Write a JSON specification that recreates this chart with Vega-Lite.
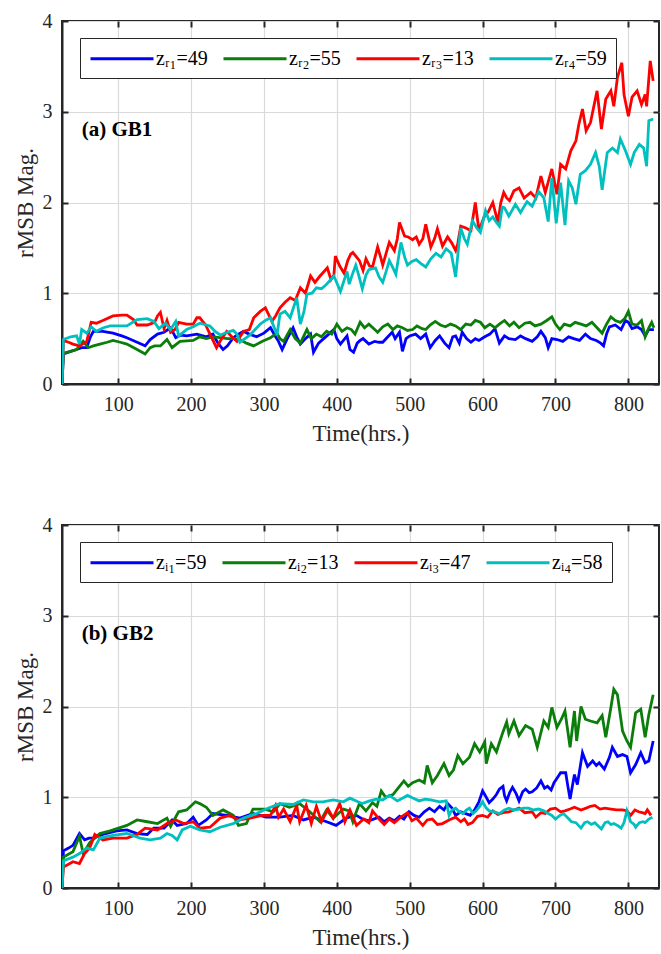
{
"$schema": "https://vega.github.io/schema/vega-lite/v6.json",
"padding": {"left": 13, "top": 10, "right": 0, "bottom": 0},
"background": "white",
"config": {
  "font": "Liberation Serif",
  "view": {"stroke": "#262626", "strokeWidth": 2},
  "concat": {"spacing": 68},
  "axis": {"labelFont": "Liberation Serif", "labelFontSize": 20, "labelColor": "#262626", "titleFont": "Liberation Serif", "titleFontSize": 23, "titleFontWeight": "normal", "titleColor": "#262626", "domainColor": "#262626", "domainWidth": 2, "tickColor": "#262626", "tickWidth": 2, "tickSize": -6, "gridColor": "#dadada", "gridWidth": 1.2},
  "axisX": {"labelPadding": 16, "titlePadding": 8},
  "axisY": {"labelPadding": 16, "titlePadding": 5}
},
"datasets": {
"gb1": [
{"s":"zᵣ₁=49","t":23,"v":0},{"s":"zᵣ₁=49","t":25,"v":0.33},{"s":"zᵣ₁=49","t":35,"v":0.36},{"s":"zᵣ₁=49","t":43,"v":0.38},{"s":"zᵣ₁=49","t":50,"v":0.4},{"s":"zᵣ₁=49","t":57,"v":0.4},{"s":"zᵣ₁=49","t":62,"v":0.52},{"s":"zᵣ₁=49","t":66,"v":0.58},{"s":"zᵣ₁=49","t":79,"v":0.58},{"s":"zᵣ₁=49","t":93,"v":0.56},{"s":"zᵣ₁=49","t":105,"v":0.53},{"s":"zᵣ₁=49","t":112,"v":0.51},{"s":"zᵣ₁=49","t":126,"v":0.46},{"s":"zᵣ₁=49","t":137,"v":0.42},{"s":"zᵣ₁=49","t":144,"v":0.49},{"s":"zᵣ₁=49","t":154,"v":0.55},{"s":"zᵣ₁=49","t":163,"v":0.57},{"s":"zᵣ₁=49","t":172,"v":0.62},{"s":"zᵣ₁=49","t":179,"v":0.51},{"s":"zᵣ₁=49","t":186,"v":0.54},{"s":"zᵣ₁=49","t":194,"v":0.53},{"s":"zᵣ₁=49","t":208,"v":0.55},{"s":"zᵣ₁=49","t":221,"v":0.52},{"s":"zᵣ₁=49","t":230,"v":0.55},{"s":"zᵣ₁=49","t":237,"v":0.45},{"s":"zᵣ₁=49","t":244,"v":0.38},{"s":"zᵣ₁=49","t":250,"v":0.42},{"s":"zᵣ₁=49","t":258,"v":0.51},{"s":"zᵣ₁=49","t":265,"v":0.55},{"s":"zᵣ₁=49","t":272,"v":0.58},{"s":"zᵣ₁=49","t":280,"v":0.55},{"s":"zᵣ₁=49","t":290,"v":0.52},{"s":"zᵣ₁=49","t":300,"v":0.56},{"s":"zᵣ₁=49","t":309,"v":0.62},{"s":"zᵣ₁=49","t":316,"v":0.52},{"s":"zᵣ₁=49","t":320,"v":0.47},{"s":"zᵣ₁=49","t":325,"v":0.38},{"s":"zᵣ₁=49","t":332,"v":0.5},{"s":"zᵣ₁=49","t":340,"v":0.62},{"s":"zᵣ₁=49","t":345,"v":0.52},{"s":"zᵣ₁=49","t":350,"v":0.44},{"s":"zᵣ₁=49","t":357,"v":0.5},{"s":"zᵣ₁=49","t":364,"v":0.55},{"s":"zᵣ₁=49","t":368,"v":0.35},{"s":"zᵣ₁=49","t":375,"v":0.45},{"s":"zᵣ₁=49","t":382,"v":0.5},{"s":"zᵣ₁=49","t":389,"v":0.55},{"s":"zᵣ₁=49","t":396,"v":0.6},{"s":"zᵣ₁=49","t":400,"v":0.5},{"s":"zᵣ₁=49","t":405,"v":0.44},{"s":"zᵣ₁=49","t":414,"v":0.53},{"s":"zᵣ₁=49","t":418,"v":0.38},{"s":"zᵣ₁=49","t":423,"v":0.35},{"s":"zᵣ₁=49","t":428,"v":0.45},{"s":"zᵣ₁=49","t":432,"v":0.48},{"s":"zᵣ₁=49","t":436,"v":0.5},{"s":"zᵣ₁=49","t":444,"v":0.44},{"s":"zᵣ₁=49","t":452,"v":0.47},{"s":"zᵣ₁=49","t":458,"v":0.46},{"s":"zᵣ₁=49","t":463,"v":0.46},{"s":"zᵣ₁=49","t":470,"v":0.52},{"s":"zᵣ₁=49","t":476,"v":0.57},{"s":"zᵣ₁=49","t":480,"v":0.5},{"s":"zᵣ₁=49","t":486,"v":0.57},{"s":"zᵣ₁=49","t":490,"v":0.36},{"s":"zᵣ₁=49","t":495,"v":0.5},{"s":"zᵣ₁=49","t":500,"v":0.53},{"s":"zᵣ₁=49","t":508,"v":0.55},{"s":"zᵣ₁=49","t":515,"v":0.5},{"s":"zᵣ₁=49","t":522,"v":0.55},{"s":"zᵣ₁=49","t":528,"v":0.4},{"s":"zᵣ₁=49","t":535,"v":0.48},{"s":"zᵣ₁=49","t":541,"v":0.53},{"s":"zᵣ₁=49","t":548,"v":0.45},{"s":"zᵣ₁=49","t":554,"v":0.4},{"s":"zᵣ₁=49","t":559,"v":0.52},{"s":"zᵣ₁=49","t":563,"v":0.53},{"s":"zᵣ₁=49","t":568,"v":0.45},{"s":"zᵣ₁=49","t":572,"v":0.57},{"s":"zᵣ₁=49","t":578,"v":0.5},{"s":"zᵣ₁=49","t":584,"v":0.46},{"s":"zᵣ₁=49","t":590,"v":0.5},{"s":"zᵣ₁=49","t":595,"v":0.48},{"s":"zᵣ₁=49","t":603,"v":0.52},{"s":"zᵣ₁=49","t":610,"v":0.55},{"s":"zᵣ₁=49","t":617,"v":0.61},{"s":"zᵣ₁=49","t":623,"v":0.45},{"s":"zᵣ₁=49","t":630,"v":0.53},{"s":"zᵣ₁=49","t":636,"v":0.5},{"s":"zᵣ₁=49","t":645,"v":0.49},{"s":"zᵣ₁=49","t":652,"v":0.53},{"s":"zᵣ₁=49","t":659,"v":0.5},{"s":"zᵣ₁=49","t":668,"v":0.47},{"s":"zᵣ₁=49","t":675,"v":0.52},{"s":"zᵣ₁=49","t":680,"v":0.58},{"s":"zᵣ₁=49","t":686,"v":0.51},{"s":"zᵣ₁=49","t":690,"v":0.4},{"s":"zᵣ₁=49","t":695,"v":0.5},{"s":"zᵣ₁=49","t":702,"v":0.49},{"s":"zᵣ₁=49","t":710,"v":0.47},{"s":"zᵣ₁=49","t":718,"v":0.52},{"s":"zᵣ₁=49","t":725,"v":0.5},{"s":"zᵣ₁=49","t":733,"v":0.48},{"s":"zᵣ₁=49","t":741,"v":0.55},{"s":"zᵣ₁=49","t":748,"v":0.5},{"s":"zᵣ₁=49","t":756,"v":0.48},{"s":"zᵣ₁=49","t":762,"v":0.45},{"s":"zᵣ₁=49","t":766,"v":0.42},{"s":"zᵣ₁=49","t":770,"v":0.55},{"s":"zᵣ₁=49","t":774,"v":0.63},{"s":"zᵣ₁=49","t":782,"v":0.65},{"s":"zᵣ₁=49","t":790,"v":0.6},{"s":"zᵣ₁=49","t":796,"v":0.7},{"s":"zᵣ₁=49","t":800,"v":0.68},{"s":"zᵣ₁=49","t":805,"v":0.61},{"s":"zᵣ₁=49","t":812,"v":0.63},{"s":"zᵣ₁=49","t":818,"v":0.6},{"s":"zᵣ₁=49","t":823,"v":0.53},{"s":"zᵣ₁=49","t":828,"v":0.6},{"s":"zᵣ₁=49","t":835,"v":0.6},
{"s":"zᵣ₂=55","t":23,"v":0},{"s":"zᵣ₂=55","t":25,"v":0.34},{"s":"zᵣ₂=55","t":35,"v":0.36},{"s":"zᵣ₂=55","t":43,"v":0.38},{"s":"zᵣ₂=55","t":52,"v":0.47},{"s":"zᵣ₂=55","t":59,"v":0.4},{"s":"zᵣ₂=55","t":66,"v":0.42},{"s":"zᵣ₂=55","t":75,"v":0.44},{"s":"zᵣ₂=55","t":85,"v":0.46},{"s":"zᵣ₂=55","t":93,"v":0.48},{"s":"zᵣ₂=55","t":103,"v":0.46},{"s":"zᵣ₂=55","t":112,"v":0.44},{"s":"zᵣ₂=55","t":126,"v":0.38},{"s":"zᵣ₂=55","t":137,"v":0.33},{"s":"zᵣ₂=55","t":144,"v":0.4},{"s":"zᵣ₂=55","t":150,"v":0.42},{"s":"zᵣ₂=55","t":158,"v":0.42},{"s":"zᵣ₂=55","t":167,"v":0.49},{"s":"zᵣ₂=55","t":174,"v":0.4},{"s":"zᵣ₂=55","t":180,"v":0.44},{"s":"zᵣ₂=55","t":185,"v":0.47},{"s":"zᵣ₂=55","t":203,"v":0.48},{"s":"zᵣ₂=55","t":212,"v":0.52},{"s":"zᵣ₂=55","t":221,"v":0.5},{"s":"zᵣ₂=55","t":230,"v":0.52},{"s":"zᵣ₂=55","t":240,"v":0.51},{"s":"zᵣ₂=55","t":250,"v":0.5},{"s":"zᵣ₂=55","t":258,"v":0.5},{"s":"zᵣ₂=55","t":267,"v":0.49},{"s":"zᵣ₂=55","t":276,"v":0.45},{"s":"zᵣ₂=55","t":286,"v":0.42},{"s":"zᵣ₂=55","t":298,"v":0.47},{"s":"zᵣ₂=55","t":309,"v":0.51},{"s":"zᵣ₂=55","t":318,"v":0.56},{"s":"zᵣ₂=55","t":322,"v":0.5},{"s":"zᵣ₂=55","t":327,"v":0.47},{"s":"zᵣ₂=55","t":336,"v":0.6},{"s":"zᵣ₂=55","t":343,"v":0.5},{"s":"zᵣ₂=55","t":350,"v":0.45},{"s":"zᵣ₂=55","t":359,"v":0.6},{"s":"zᵣ₂=55","t":365,"v":0.5},{"s":"zᵣ₂=55","t":372,"v":0.55},{"s":"zᵣ₂=55","t":379,"v":0.52},{"s":"zᵣ₂=55","t":386,"v":0.58},{"s":"zᵣ₂=55","t":393,"v":0.55},{"s":"zᵣ₂=55","t":400,"v":0.66},{"s":"zᵣ₂=55","t":407,"v":0.58},{"s":"zᵣ₂=55","t":414,"v":0.62},{"s":"zᵣ₂=55","t":420,"v":0.6},{"s":"zᵣ₂=55","t":425,"v":0.55},{"s":"zᵣ₂=55","t":432,"v":0.68},{"s":"zᵣ₂=55","t":438,"v":0.62},{"s":"zᵣ₂=55","t":444,"v":0.66},{"s":"zᵣ₂=55","t":452,"v":0.6},{"s":"zᵣ₂=55","t":456,"v":0.57},{"s":"zᵣ₂=55","t":463,"v":0.63},{"s":"zᵣ₂=55","t":470,"v":0.66},{"s":"zᵣ₂=55","t":477,"v":0.6},{"s":"zᵣ₂=55","t":483,"v":0.64},{"s":"zᵣ₂=55","t":490,"v":0.62},{"s":"zᵣ₂=55","t":497,"v":0.59},{"s":"zᵣ₂=55","t":504,"v":0.6},{"s":"zᵣ₂=55","t":510,"v":0.64},{"s":"zᵣ₂=55","t":517,"v":0.61},{"s":"zᵣ₂=55","t":522,"v":0.6},{"s":"zᵣ₂=55","t":528,"v":0.65},{"s":"zᵣ₂=55","t":535,"v":0.69},{"s":"zᵣ₂=55","t":542,"v":0.65},{"s":"zᵣ₂=55","t":549,"v":0.63},{"s":"zᵣ₂=55","t":556,"v":0.66},{"s":"zᵣ₂=55","t":563,"v":0.64},{"s":"zᵣ₂=55","t":570,"v":0.6},{"s":"zᵣ₂=55","t":577,"v":0.66},{"s":"zᵣ₂=55","t":584,"v":0.65},{"s":"zᵣ₂=55","t":590,"v":0.7},{"s":"zᵣ₂=55","t":597,"v":0.68},{"s":"zᵣ₂=55","t":603,"v":0.62},{"s":"zᵣ₂=55","t":610,"v":0.66},{"s":"zᵣ₂=55","t":617,"v":0.62},{"s":"zᵣ₂=55","t":623,"v":0.66},{"s":"zᵣ₂=55","t":630,"v":0.7},{"s":"zᵣ₂=55","t":637,"v":0.64},{"s":"zᵣ₂=55","t":643,"v":0.68},{"s":"zᵣ₂=55","t":650,"v":0.62},{"s":"zᵣ₂=55","t":658,"v":0.67},{"s":"zᵣ₂=55","t":665,"v":0.68},{"s":"zᵣ₂=55","t":672,"v":0.64},{"s":"zᵣ₂=55","t":680,"v":0.66},{"s":"zᵣ₂=55","t":688,"v":0.7},{"s":"zᵣ₂=55","t":695,"v":0.74},{"s":"zᵣ₂=55","t":700,"v":0.66},{"s":"zᵣ₂=55","t":706,"v":0.6},{"s":"zᵣ₂=55","t":712,"v":0.66},{"s":"zᵣ₂=55","t":720,"v":0.64},{"s":"zᵣ₂=55","t":727,"v":0.68},{"s":"zᵣ₂=55","t":735,"v":0.66},{"s":"zᵣ₂=55","t":742,"v":0.64},{"s":"zᵣ₂=55","t":750,"v":0.68},{"s":"zᵣ₂=55","t":757,"v":0.62},{"s":"zᵣ₂=55","t":764,"v":0.56},{"s":"zᵣ₂=55","t":770,"v":0.66},{"s":"zᵣ₂=55","t":776,"v":0.74},{"s":"zᵣ₂=55","t":782,"v":0.7},{"s":"zᵣ₂=55","t":789,"v":0.68},{"s":"zᵣ₂=55","t":795,"v":0.72},{"s":"zᵣ₂=55","t":800,"v":0.8},{"s":"zᵣ₂=55","t":805,"v":0.66},{"s":"zᵣ₂=55","t":812,"v":0.65},{"s":"zᵣ₂=55","t":818,"v":0.7},{"s":"zᵣ₂=55","t":823,"v":0.52},{"s":"zᵣ₂=55","t":828,"v":0.62},{"s":"zᵣ₂=55","t":832,"v":0.68},{"s":"zᵣ₂=55","t":835,"v":0.62},
{"s":"zᵣ₃=13","t":23,"v":0},{"s":"zᵣ₃=13","t":25,"v":0.48},{"s":"zᵣ₃=13","t":32,"v":0.46},{"s":"zᵣ₃=13","t":38,"v":0.44},{"s":"zᵣ₃=13","t":47,"v":0.42},{"s":"zᵣ₃=13","t":57,"v":0.47},{"s":"zᵣ₃=13","t":63,"v":0.68},{"s":"zᵣ₃=13","t":70,"v":0.67},{"s":"zᵣ₃=13","t":79,"v":0.7},{"s":"zᵣ₃=13","t":93,"v":0.75},{"s":"zᵣ₃=13","t":105,"v":0.76},{"s":"zᵣ₃=13","t":112,"v":0.76},{"s":"zᵣ₃=13","t":121,"v":0.71},{"s":"zᵣ₃=13","t":126,"v":0.65},{"s":"zᵣ₃=13","t":140,"v":0.65},{"s":"zᵣ₃=13","t":150,"v":0.68},{"s":"zᵣ₃=13","t":154,"v":0.75},{"s":"zᵣ₃=13","t":158,"v":0.79},{"s":"zᵣ₃=13","t":163,"v":0.61},{"s":"zᵣ₃=13","t":167,"v":0.7},{"s":"zᵣ₃=13","t":172,"v":0.57},{"s":"zᵣ₃=13","t":178,"v":0.6},{"s":"zᵣ₃=13","t":183,"v":0.68},{"s":"zᵣ₃=13","t":194,"v":0.66},{"s":"zᵣ₃=13","t":203,"v":0.66},{"s":"zᵣ₃=13","t":208,"v":0.73},{"s":"zᵣ₃=13","t":212,"v":0.73},{"s":"zᵣ₃=13","t":220,"v":0.65},{"s":"zᵣ₃=13","t":226,"v":0.55},{"s":"zᵣ₃=13","t":235,"v":0.4},{"s":"zᵣ₃=13","t":242,"v":0.5},{"s":"zᵣ₃=13","t":249,"v":0.58},{"s":"zᵣ₃=13","t":256,"v":0.52},{"s":"zᵣ₃=13","t":263,"v":0.47},{"s":"zᵣ₃=13","t":272,"v":0.58},{"s":"zᵣ₃=13","t":280,"v":0.6},{"s":"zᵣ₃=13","t":286,"v":0.73},{"s":"zᵣ₃=13","t":295,"v":0.8},{"s":"zᵣ₃=13","t":302,"v":0.84},{"s":"zᵣ₃=13","t":311,"v":0.69},{"s":"zᵣ₃=13","t":316,"v":0.75},{"s":"zᵣ₃=13","t":322,"v":0.84},{"s":"zᵣ₃=13","t":329,"v":0.9},{"s":"zᵣ₃=13","t":336,"v":0.95},{"s":"zᵣ₃=13","t":343,"v":0.92},{"s":"zᵣ₃=13","t":350,"v":1.06},{"s":"zᵣ₃=13","t":357,"v":1.0},{"s":"zᵣ₃=13","t":364,"v":1.19},{"s":"zᵣ₃=13","t":370,"v":1.12},{"s":"zᵣ₃=13","t":377,"v":1.19},{"s":"zᵣ₃=13","t":387,"v":1.28},{"s":"zᵣ₃=13","t":392,"v":1.15},{"s":"zᵣ₃=13","t":396,"v":1.2},{"s":"zᵣ₃=13","t":398,"v":1.41},{"s":"zᵣ₃=13","t":404,"v":1.3},{"s":"zᵣ₃=13","t":410,"v":1.22},{"s":"zᵣ₃=13","t":415,"v":1.36},{"s":"zᵣ₃=13","t":419,"v":1.43},{"s":"zᵣ₃=13","t":422,"v":1.45},{"s":"zᵣ₃=13","t":428,"v":1.39},{"s":"zᵣ₃=13","t":431,"v":1.36},{"s":"zᵣ₃=13","t":436,"v":1.25},{"s":"zᵣ₃=13","t":440,"v":1.38},{"s":"zᵣ₃=13","t":445,"v":1.3},{"s":"zᵣ₃=13","t":449,"v":1.29},{"s":"zᵣ₃=13","t":456,"v":1.51},{"s":"zᵣ₃=13","t":460,"v":1.4},{"s":"zᵣ₃=13","t":463,"v":1.31},{"s":"zᵣ₃=13","t":468,"v":1.45},{"s":"zᵣ₃=13","t":472,"v":1.56},{"s":"zᵣ₃=13","t":479,"v":1.47},{"s":"zᵣ₃=13","t":483,"v":1.6},{"s":"zᵣ₃=13","t":486,"v":1.78},{"s":"zᵣ₃=13","t":493,"v":1.63},{"s":"zᵣ₃=13","t":498,"v":1.62},{"s":"zᵣ₃=13","t":504,"v":1.59},{"s":"zᵣ₃=13","t":509,"v":1.62},{"s":"zᵣ₃=13","t":513,"v":1.54},{"s":"zᵣ₃=13","t":518,"v":1.6},{"s":"zᵣ₃=13","t":522,"v":1.76},{"s":"zᵣ₃=13","t":529,"v":1.51},{"s":"zᵣ₃=13","t":534,"v":1.6},{"s":"zᵣ₃=13","t":538,"v":1.71},{"s":"zᵣ₃=13","t":545,"v":1.52},{"s":"zᵣ₃=13","t":552,"v":1.62},{"s":"zᵣ₃=13","t":558,"v":1.55},{"s":"zᵣ₃=13","t":563,"v":1.47},{"s":"zᵣ₃=13","t":566,"v":1.55},{"s":"zᵣ₃=13","t":570,"v":1.74},{"s":"zᵣ₃=13","t":577,"v":1.72},{"s":"zᵣ₃=13","t":584,"v":1.69},{"s":"zᵣ₃=13","t":590,"v":2.0},{"s":"zᵣ₃=13","t":595,"v":1.69},{"s":"zᵣ₃=13","t":602,"v":1.84},{"s":"zᵣ₃=13","t":608,"v":1.9},{"s":"zᵣ₃=13","t":614,"v":2.0},{"s":"zᵣ₃=13","t":621,"v":1.78},{"s":"zᵣ₃=13","t":625,"v":2.0},{"s":"zᵣ₃=13","t":629,"v":2.11},{"s":"zᵣ₃=13","t":633,"v":2.05},{"s":"zᵣ₃=13","t":637,"v":2.02},{"s":"zᵣ₃=13","t":643,"v":2.13},{"s":"zᵣ₃=13","t":650,"v":2.16},{"s":"zᵣ₃=13","t":657,"v":2.05},{"s":"zᵣ₃=13","t":666,"v":2.11},{"s":"zᵣ₃=13","t":673,"v":2.05},{"s":"zᵣ₃=13","t":680,"v":2.29},{"s":"zᵣ₃=13","t":686,"v":2.11},{"s":"zᵣ₃=13","t":695,"v":2.37},{"s":"zᵣ₃=13","t":702,"v":2.09},{"s":"zᵣ₃=13","t":707,"v":2.42},{"s":"zᵣ₃=13","t":714,"v":2.37},{"s":"zᵣ₃=13","t":721,"v":2.57},{"s":"zᵣ₃=13","t":728,"v":2.68},{"s":"zᵣ₃=13","t":732,"v":2.86},{"s":"zᵣ₃=13","t":737,"v":3.03},{"s":"zᵣ₃=13","t":742,"v":2.79},{"s":"zᵣ₃=13","t":748,"v":2.88},{"s":"zᵣ₃=13","t":757,"v":3.23},{"s":"zᵣ₃=13","t":763,"v":2.81},{"s":"zᵣ₃=13","t":769,"v":3.14},{"s":"zᵣ₃=13","t":776,"v":3.23},{"s":"zᵣ₃=13","t":780,"v":3.06},{"s":"zᵣ₃=13","t":785,"v":3.38},{"s":"zᵣ₃=13","t":791,"v":3.54},{"s":"zᵣ₃=13","t":794,"v":3.19},{"s":"zᵣ₃=13","t":800,"v":2.95},{"s":"zᵣ₃=13","t":805,"v":3.16},{"s":"zᵣ₃=13","t":812,"v":3.23},{"s":"zᵣ₃=13","t":818,"v":3.08},{"s":"zᵣ₃=13","t":823,"v":3.19},{"s":"zᵣ₃=13","t":825,"v":3.06},{"s":"zᵣ₃=13","t":830,"v":3.56},{"s":"zᵣ₃=13","t":834,"v":3.34},
{"s":"zᵣ₄=59","t":23,"v":0},{"s":"zᵣ₄=59","t":25,"v":0.49},{"s":"zᵣ₄=59","t":35,"v":0.52},{"s":"zᵣ₄=59","t":43,"v":0.53},{"s":"zᵣ₄=59","t":47,"v":0.44},{"s":"zᵣ₄=59","t":50,"v":0.6},{"s":"zᵣ₄=59","t":57,"v":0.56},{"s":"zᵣ₄=59","t":63,"v":0.63},{"s":"zᵣ₄=59","t":70,"v":0.58},{"s":"zᵣ₄=59","t":80,"v":0.62},{"s":"zᵣ₄=59","t":89,"v":0.64},{"s":"zᵣ₄=59","t":100,"v":0.64},{"s":"zᵣ₄=59","t":112,"v":0.64},{"s":"zᵣ₄=59","t":126,"v":0.71},{"s":"zᵣ₄=59","t":140,"v":0.72},{"s":"zᵣ₄=59","t":149,"v":0.69},{"s":"zᵣ₄=59","t":156,"v":0.61},{"s":"zᵣ₄=59","t":165,"v":0.67},{"s":"zᵣ₄=59","t":172,"v":0.6},{"s":"zᵣ₄=59","t":179,"v":0.69},{"s":"zᵣ₄=59","t":183,"v":0.53},{"s":"zᵣ₄=59","t":194,"v":0.6},{"s":"zᵣ₄=59","t":203,"v":0.63},{"s":"zᵣ₄=59","t":212,"v":0.67},{"s":"zᵣ₄=59","t":226,"v":0.64},{"s":"zᵣ₄=59","t":233,"v":0.58},{"s":"zᵣ₄=59","t":240,"v":0.54},{"s":"zᵣ₄=59","t":250,"v":0.57},{"s":"zᵣ₄=59","t":258,"v":0.59},{"s":"zᵣ₄=59","t":263,"v":0.55},{"s":"zᵣ₄=59","t":267,"v":0.46},{"s":"zᵣ₄=59","t":274,"v":0.5},{"s":"zᵣ₄=59","t":281,"v":0.54},{"s":"zᵣ₄=59","t":288,"v":0.6},{"s":"zᵣ₄=59","t":295,"v":0.66},{"s":"zᵣ₄=59","t":302,"v":0.7},{"s":"zᵣ₄=59","t":309,"v":0.73},{"s":"zᵣ₄=59","t":318,"v":0.54},{"s":"zᵣ₄=59","t":322,"v":0.77},{"s":"zᵣ₄=59","t":329,"v":0.8},{"s":"zᵣ₄=59","t":336,"v":0.73},{"s":"zᵣ₄=59","t":345,"v":0.95},{"s":"zᵣ₄=59","t":350,"v":0.66},{"s":"zᵣ₄=59","t":355,"v":0.8},{"s":"zᵣ₄=59","t":359,"v":0.99},{"s":"zᵣ₄=59","t":366,"v":1.0},{"s":"zᵣ₄=59","t":372,"v":1.06},{"s":"zᵣ₄=59","t":379,"v":1.05},{"s":"zᵣ₄=59","t":386,"v":1.1},{"s":"zᵣ₄=59","t":396,"v":1.19},{"s":"zᵣ₄=59","t":405,"v":1.02},{"s":"zᵣ₄=59","t":414,"v":1.24},{"s":"zᵣ₄=59","t":417,"v":1.1},{"s":"zᵣ₄=59","t":421,"v":1.2},{"s":"zᵣ₄=59","t":426,"v":1.31},{"s":"zᵣ₄=59","t":430,"v":1.2},{"s":"zᵣ₄=59","t":435,"v":1.05},{"s":"zᵣ₄=59","t":440,"v":1.2},{"s":"zᵣ₄=59","t":444,"v":1.26},{"s":"zᵣ₄=59","t":453,"v":1.28},{"s":"zᵣ₄=59","t":458,"v":1.18},{"s":"zᵣ₄=59","t":463,"v":1.12},{"s":"zᵣ₄=59","t":468,"v":1.25},{"s":"zᵣ₄=59","t":472,"v":1.36},{"s":"zᵣ₄=59","t":477,"v":1.28},{"s":"zᵣ₄=59","t":481,"v":1.21},{"s":"zᵣ₄=59","t":488,"v":1.56},{"s":"zᵣ₄=59","t":493,"v":1.4},{"s":"zᵣ₄=59","t":497,"v":1.31},{"s":"zᵣ₄=59","t":503,"v":1.35},{"s":"zᵣ₄=59","t":509,"v":1.37},{"s":"zᵣ₄=59","t":515,"v":1.33},{"s":"zᵣ₄=59","t":522,"v":1.29},{"s":"zᵣ₄=59","t":529,"v":1.38},{"s":"zᵣ₄=59","t":536,"v":1.44},{"s":"zᵣ₄=59","t":543,"v":1.4},{"s":"zᵣ₄=59","t":550,"v":1.49},{"s":"zᵣ₄=59","t":557,"v":1.44},{"s":"zᵣ₄=59","t":563,"v":1.18},{"s":"zᵣ₄=59","t":567,"v":1.5},{"s":"zᵣ₄=59","t":570,"v":1.72},{"s":"zᵣ₄=59","t":575,"v":1.6},{"s":"zᵣ₄=59","t":579,"v":1.54},{"s":"zᵣ₄=59","t":586,"v":1.8},{"s":"zᵣ₄=59","t":592,"v":1.72},{"s":"zᵣ₄=59","t":597,"v":1.67},{"s":"zᵣ₄=59","t":604,"v":1.91},{"s":"zᵣ₄=59","t":609,"v":1.8},{"s":"zᵣ₄=59","t":614,"v":1.84},{"s":"zᵣ₄=59","t":619,"v":1.78},{"s":"zᵣ₄=59","t":623,"v":1.74},{"s":"zᵣ₄=59","t":627,"v":1.95},{"s":"zᵣ₄=59","t":630,"v":1.94},{"s":"zᵣ₄=59","t":636,"v":1.85},{"s":"zᵣ₄=59","t":645,"v":1.98},{"s":"zᵣ₄=59","t":652,"v":1.89},{"s":"zᵣ₄=59","t":661,"v":2.01},{"s":"zᵣ₄=59","t":668,"v":1.96},{"s":"zᵣ₄=59","t":677,"v":2.12},{"s":"zᵣ₄=59","t":684,"v":2.05},{"s":"zᵣ₄=59","t":690,"v":1.79},{"s":"zᵣ₄=59","t":695,"v":2.27},{"s":"zᵣ₄=59","t":701,"v":1.77},{"s":"zᵣ₄=59","t":707,"v":2.22},{"s":"zᵣ₄=59","t":713,"v":1.75},{"s":"zᵣ₄=59","t":718,"v":2.24},{"s":"zᵣ₄=59","t":723,"v":2.16},{"s":"zᵣ₄=59","t":728,"v":1.98},{"s":"zᵣ₄=59","t":734,"v":2.31},{"s":"zᵣ₄=59","t":741,"v":2.35},{"s":"zᵣ₄=59","t":748,"v":2.42},{"s":"zᵣ₄=59","t":755,"v":2.55},{"s":"zᵣ₄=59","t":760,"v":2.4},{"s":"zᵣ₄=59","t":764,"v":2.14},{"s":"zᵣ₄=59","t":771,"v":2.55},{"s":"zᵣ₄=59","t":778,"v":2.6},{"s":"zᵣ₄=59","t":785,"v":2.55},{"s":"zᵣ₄=59","t":789,"v":2.7},{"s":"zᵣ₄=59","t":796,"v":2.57},{"s":"zᵣ₄=59","t":803,"v":2.42},{"s":"zᵣ₄=59","t":808,"v":2.55},{"s":"zᵣ₄=59","t":815,"v":2.64},{"s":"zᵣ₄=59","t":821,"v":2.6},{"s":"zᵣ₄=59","t":825,"v":2.4},{"s":"zᵣ₄=59","t":828,"v":2.9},{"s":"zᵣ₄=59","t":834,"v":2.92}
],
"gb2": [
{"s":"zᵢ₁=59","t":23,"v":0},{"s":"zᵢ₁=59","t":25,"v":0.41},{"s":"zᵢ₁=59","t":32,"v":0.44},{"s":"zᵢ₁=59","t":38,"v":0.47},{"s":"zᵢ₁=59","t":47,"v":0.6},{"s":"zᵢ₁=59","t":54,"v":0.53},{"s":"zᵢ₁=59","t":60,"v":0.55},{"s":"zᵢ₁=59","t":66,"v":0.55},{"s":"zᵢ₁=59","t":79,"v":0.59},{"s":"zᵢ₁=59","t":98,"v":0.63},{"s":"zᵢ₁=59","t":112,"v":0.64},{"s":"zᵢ₁=59","t":126,"v":0.6},{"s":"zᵢ₁=59","t":140,"v":0.59},{"s":"zᵢ₁=59","t":149,"v":0.66},{"s":"zᵢ₁=59","t":163,"v":0.66},{"s":"zᵢ₁=59","t":174,"v":0.75},{"s":"zᵢ₁=59","t":181,"v":0.69},{"s":"zᵢ₁=59","t":194,"v":0.71},{"s":"zᵢ₁=59","t":203,"v":0.78},{"s":"zᵢ₁=59","t":210,"v":0.69},{"s":"zᵢ₁=59","t":221,"v":0.75},{"s":"zᵢ₁=59","t":230,"v":0.82},{"s":"zᵢ₁=59","t":249,"v":0.8},{"s":"zᵢ₁=59","t":267,"v":0.77},{"s":"zᵢ₁=59","t":285,"v":0.82},{"s":"zᵢ₁=59","t":303,"v":0.78},{"s":"zᵢ₁=59","t":322,"v":0.78},{"s":"zᵢ₁=59","t":340,"v":0.8},{"s":"zᵢ₁=59","t":354,"v":0.75},{"s":"zᵢ₁=59","t":368,"v":0.78},{"s":"zᵢ₁=59","t":386,"v":0.73},{"s":"zᵢ₁=59","t":399,"v":0.69},{"s":"zᵢ₁=59","t":413,"v":0.77},{"s":"zᵢ₁=59","t":417,"v":0.78},{"s":"zᵢ₁=59","t":427,"v":0.8},{"s":"zᵢ₁=59","t":435,"v":0.76},{"s":"zᵢ₁=59","t":444,"v":0.74},{"s":"zᵢ₁=59","t":458,"v":0.78},{"s":"zᵢ₁=59","t":465,"v":0.73},{"s":"zᵢ₁=59","t":472,"v":0.77},{"s":"zᵢ₁=59","t":479,"v":0.74},{"s":"zᵢ₁=59","t":486,"v":0.79},{"s":"zᵢ₁=59","t":492,"v":0.76},{"s":"zᵢ₁=59","t":499,"v":0.84},{"s":"zᵢ₁=59","t":506,"v":0.8},{"s":"zᵢ₁=59","t":513,"v":0.78},{"s":"zᵢ₁=59","t":520,"v":0.84},{"s":"zᵢ₁=59","t":527,"v":0.88},{"s":"zᵢ₁=59","t":534,"v":0.84},{"s":"zᵢ₁=59","t":541,"v":0.9},{"s":"zᵢ₁=59","t":547,"v":0.86},{"s":"zᵢ₁=59","t":552,"v":0.93},{"s":"zᵢ₁=59","t":558,"v":0.88},{"s":"zᵢ₁=59","t":563,"v":0.8},{"s":"zᵢ₁=59","t":570,"v":0.84},{"s":"zᵢ₁=59","t":577,"v":0.82},{"s":"zᵢ₁=59","t":583,"v":0.8},{"s":"zᵢ₁=59","t":589,"v":0.86},{"s":"zᵢ₁=59","t":595,"v":0.95},{"s":"zᵢ₁=59","t":600,"v":1.07},{"s":"zᵢ₁=59","t":605,"v":1.0},{"s":"zᵢ₁=59","t":609,"v":0.94},{"s":"zᵢ₁=59","t":614,"v":0.98},{"s":"zᵢ₁=59","t":619,"v":1.03},{"s":"zᵢ₁=59","t":623,"v":1.09},{"s":"zᵢ₁=59","t":628,"v":1.12},{"s":"zᵢ₁=59","t":630,"v":1.02},{"s":"zᵢ₁=59","t":633,"v":0.96},{"s":"zᵢ₁=59","t":637,"v":1.05},{"s":"zᵢ₁=59","t":641,"v":1.11},{"s":"zᵢ₁=59","t":646,"v":1.04},{"s":"zᵢ₁=59","t":650,"v":0.96},{"s":"zᵢ₁=59","t":655,"v":1.06},{"s":"zᵢ₁=59","t":659,"v":1.09},{"s":"zᵢ₁=59","t":664,"v":1.05},{"s":"zᵢ₁=59","t":668,"v":1.06},{"s":"zᵢ₁=59","t":674,"v":1.1},{"s":"zᵢ₁=59","t":680,"v":1.18},{"s":"zᵢ₁=59","t":685,"v":1.1},{"s":"zᵢ₁=59","t":689,"v":1.12},{"s":"zᵢ₁=59","t":694,"v":1.08},{"s":"zᵢ₁=59","t":698,"v":1.16},{"s":"zᵢ₁=59","t":703,"v":1.22},{"s":"zᵢ₁=59","t":707,"v":1.27},{"s":"zᵢ₁=59","t":714,"v":1.27},{"s":"zᵢ₁=59","t":717,"v":1.12},{"s":"zᵢ₁=59","t":720,"v":0.98},{"s":"zᵢ₁=59","t":726,"v":1.25},{"s":"zᵢ₁=59","t":730,"v":1.14},{"s":"zᵢ₁=59","t":737,"v":1.49},{"s":"zᵢ₁=59","t":744,"v":1.34},{"s":"zᵢ₁=59","t":751,"v":1.4},{"s":"zᵢ₁=59","t":756,"v":1.35},{"s":"zᵢ₁=59","t":760,"v":1.38},{"s":"zᵢ₁=59","t":767,"v":1.31},{"s":"zᵢ₁=59","t":774,"v":1.44},{"s":"zᵢ₁=59","t":778,"v":1.55},{"s":"zᵢ₁=59","t":785,"v":1.45},{"s":"zᵢ₁=59","t":792,"v":1.47},{"s":"zᵢ₁=59","t":798,"v":1.45},{"s":"zᵢ₁=59","t":803,"v":1.27},{"s":"zᵢ₁=59","t":810,"v":1.36},{"s":"zᵢ₁=59","t":817,"v":1.49},{"s":"zᵢ₁=59","t":823,"v":1.38},{"s":"zᵢ₁=59","t":828,"v":1.4},{"s":"zᵢ₁=59","t":834,"v":1.62},
{"s":"zᵢ₂=13","t":23,"v":0},{"s":"zᵢ₂=13","t":25,"v":0.34},{"s":"zᵢ₂=13","t":38,"v":0.4},{"s":"zᵢ₂=13","t":47,"v":0.57},{"s":"zᵢ₂=13","t":52,"v":0.38},{"s":"zᵢ₂=13","t":61,"v":0.5},{"s":"zᵢ₂=13","t":68,"v":0.55},{"s":"zᵢ₂=13","t":75,"v":0.6},{"s":"zᵢ₂=13","t":89,"v":0.63},{"s":"zᵢ₂=13","t":112,"v":0.69},{"s":"zᵢ₂=13","t":126,"v":0.75},{"s":"zᵢ₂=13","t":140,"v":0.73},{"s":"zᵢ₂=13","t":154,"v":0.71},{"s":"zᵢ₂=13","t":167,"v":0.77},{"s":"zᵢ₂=13","t":172,"v":0.68},{"s":"zᵢ₂=13","t":183,"v":0.84},{"s":"zᵢ₂=13","t":194,"v":0.86},{"s":"zᵢ₂=13","t":206,"v":0.95},{"s":"zᵢ₂=13","t":212,"v":0.93},{"s":"zᵢ₂=13","t":221,"v":0.89},{"s":"zᵢ₂=13","t":230,"v":0.8},{"s":"zᵢ₂=13","t":244,"v":0.86},{"s":"zᵢ₂=13","t":258,"v":0.8},{"s":"zᵢ₂=13","t":265,"v":0.69},{"s":"zᵢ₂=13","t":276,"v":0.71},{"s":"zᵢ₂=13","t":285,"v":0.87},{"s":"zᵢ₂=13","t":301,"v":0.87},{"s":"zᵢ₂=13","t":313,"v":0.84},{"s":"zᵢ₂=13","t":322,"v":0.93},{"s":"zᵢ₂=13","t":335,"v":0.89},{"s":"zᵢ₂=13","t":349,"v":0.93},{"s":"zᵢ₂=13","t":363,"v":0.84},{"s":"zᵢ₂=13","t":377,"v":0.73},{"s":"zᵢ₂=13","t":386,"v":0.86},{"s":"zᵢ₂=13","t":395,"v":0.77},{"s":"zᵢ₂=13","t":409,"v":0.87},{"s":"zᵢ₂=13","t":417,"v":0.85},{"s":"zᵢ₂=13","t":422,"v":0.73},{"s":"zᵢ₂=13","t":424,"v":0.78},{"s":"zᵢ₂=13","t":431,"v":0.93},{"s":"zᵢ₂=13","t":440,"v":0.85},{"s":"zᵢ₂=13","t":449,"v":0.94},{"s":"zᵢ₂=13","t":455,"v":0.9},{"s":"zᵢ₂=13","t":461,"v":1.07},{"s":"zᵢ₂=13","t":467,"v":1.0},{"s":"zᵢ₂=13","t":477,"v":1.03},{"s":"zᵢ₂=13","t":483,"v":1.09},{"s":"zᵢ₂=13","t":492,"v":1.18},{"s":"zᵢ₂=13","t":498,"v":1.12},{"s":"zᵢ₂=13","t":504,"v":1.16},{"s":"zᵢ₂=13","t":513,"v":1.19},{"s":"zᵢ₂=13","t":520,"v":1.16},{"s":"zᵢ₂=13","t":524,"v":1.35},{"s":"zᵢ₂=13","t":531,"v":1.16},{"s":"zᵢ₂=13","t":538,"v":1.24},{"s":"zᵢ₂=13","t":547,"v":1.37},{"s":"zᵢ₂=13","t":554,"v":1.24},{"s":"zᵢ₂=13","t":560,"v":1.3},{"s":"zᵢ₂=13","t":566,"v":1.46},{"s":"zᵢ₂=13","t":573,"v":1.37},{"s":"zᵢ₂=13","t":582,"v":1.44},{"s":"zᵢ₂=13","t":589,"v":1.59},{"s":"zᵢ₂=13","t":596,"v":1.5},{"s":"zᵢ₂=13","t":603,"v":1.61},{"s":"zᵢ₂=13","t":605,"v":1.37},{"s":"zᵢ₂=13","t":612,"v":1.59},{"s":"zᵢ₂=13","t":619,"v":1.5},{"s":"zᵢ₂=13","t":623,"v":1.6},{"s":"zᵢ₂=13","t":628,"v":1.72},{"s":"zᵢ₂=13","t":633,"v":1.83},{"s":"zᵢ₂=13","t":636,"v":1.7},{"s":"zᵢ₂=13","t":643,"v":1.84},{"s":"zᵢ₂=13","t":650,"v":1.68},{"s":"zᵢ₂=13","t":659,"v":1.79},{"s":"zᵢ₂=13","t":668,"v":1.75},{"s":"zᵢ₂=13","t":675,"v":1.55},{"s":"zᵢ₂=13","t":684,"v":1.84},{"s":"zᵢ₂=13","t":690,"v":1.77},{"s":"zᵢ₂=13","t":695,"v":1.99},{"s":"zᵢ₂=13","t":702,"v":1.77},{"s":"zᵢ₂=13","t":708,"v":1.86},{"s":"zᵢ₂=13","t":713,"v":1.95},{"s":"zᵢ₂=13","t":720,"v":1.55},{"s":"zᵢ₂=13","t":726,"v":1.95},{"s":"zᵢ₂=13","t":729,"v":1.62},{"s":"zᵢ₂=13","t":735,"v":2.0},{"s":"zᵢ₂=13","t":741,"v":1.86},{"s":"zᵢ₂=13","t":748,"v":1.84},{"s":"zᵢ₂=13","t":757,"v":1.82},{"s":"zᵢ₂=13","t":764,"v":1.9},{"s":"zᵢ₂=13","t":769,"v":1.66},{"s":"zᵢ₂=13","t":776,"v":1.99},{"s":"zᵢ₂=13","t":780,"v":2.19},{"s":"zᵢ₂=13","t":785,"v":2.13},{"s":"zᵢ₂=13","t":792,"v":1.73},{"s":"zᵢ₂=13","t":798,"v":1.62},{"s":"zᵢ₂=13","t":803,"v":1.55},{"s":"zᵢ₂=13","t":810,"v":1.93},{"s":"zᵢ₂=13","t":817,"v":1.97},{"s":"zᵢ₂=13","t":823,"v":1.66},{"s":"zᵢ₂=13","t":828,"v":1.91},{"s":"zᵢ₂=13","t":834,"v":2.13},
{"s":"zᵢ₃=47","t":23,"v":0},{"s":"zᵢ₃=47","t":25,"v":0.23},{"s":"zᵢ₃=47","t":38,"v":0.29},{"s":"zᵢ₃=47","t":47,"v":0.27},{"s":"zᵢ₃=47","t":54,"v":0.38},{"s":"zᵢ₃=47","t":61,"v":0.44},{"s":"zᵢ₃=47","t":68,"v":0.59},{"s":"zᵢ₃=47","t":79,"v":0.53},{"s":"zᵢ₃=47","t":93,"v":0.55},{"s":"zᵢ₃=47","t":112,"v":0.55},{"s":"zᵢ₃=47","t":126,"v":0.59},{"s":"zᵢ₃=47","t":137,"v":0.66},{"s":"zᵢ₃=47","t":154,"v":0.64},{"s":"zᵢ₃=47","t":167,"v":0.71},{"s":"zᵢ₃=47","t":179,"v":0.75},{"s":"zᵢ₃=47","t":190,"v":0.71},{"s":"zᵢ₃=47","t":203,"v":0.73},{"s":"zᵢ₃=47","t":212,"v":0.66},{"s":"zᵢ₃=47","t":226,"v":0.67},{"s":"zᵢ₃=47","t":240,"v":0.77},{"s":"zᵢ₃=47","t":253,"v":0.8},{"s":"zᵢ₃=47","t":265,"v":0.75},{"s":"zᵢ₃=47","t":281,"v":0.77},{"s":"zᵢ₃=47","t":297,"v":0.8},{"s":"zᵢ₃=47","t":309,"v":0.8},{"s":"zᵢ₃=47","t":316,"v":0.91},{"s":"zᵢ₃=47","t":320,"v":0.78},{"s":"zᵢ₃=47","t":327,"v":0.87},{"s":"zᵢ₃=47","t":336,"v":0.73},{"s":"zᵢ₃=47","t":345,"v":0.91},{"s":"zᵢ₃=47","t":349,"v":0.73},{"s":"zᵢ₃=47","t":358,"v":0.91},{"s":"zᵢ₃=47","t":365,"v":0.71},{"s":"zᵢ₃=47","t":372,"v":0.9},{"s":"zᵢ₃=47","t":379,"v":0.73},{"s":"zᵢ₃=47","t":388,"v":0.87},{"s":"zᵢ₃=47","t":395,"v":0.77},{"s":"zᵢ₃=47","t":404,"v":0.93},{"s":"zᵢ₃=47","t":411,"v":0.73},{"s":"zᵢ₃=47","t":418,"v":0.86},{"s":"zᵢ₃=47","t":427,"v":0.69},{"s":"zᵢ₃=47","t":437,"v":0.76},{"s":"zᵢ₃=47","t":444,"v":0.72},{"s":"zᵢ₃=47","t":449,"v":0.85},{"s":"zᵢ₃=47","t":458,"v":0.76},{"s":"zᵢ₃=47","t":465,"v":0.7},{"s":"zᵢ₃=47","t":472,"v":0.76},{"s":"zᵢ₃=47","t":479,"v":0.72},{"s":"zᵢ₃=47","t":486,"v":0.77},{"s":"zᵢ₃=47","t":497,"v":0.83},{"s":"zᵢ₃=47","t":503,"v":0.74},{"s":"zᵢ₃=47","t":509,"v":0.77},{"s":"zᵢ₃=47","t":518,"v":0.69},{"s":"zᵢ₃=47","t":524,"v":0.75},{"s":"zᵢ₃=47","t":531,"v":0.76},{"s":"zᵢ₃=47","t":538,"v":0.7},{"s":"zᵢ₃=47","t":545,"v":0.71},{"s":"zᵢ₃=47","t":554,"v":0.75},{"s":"zᵢ₃=47","t":563,"v":0.78},{"s":"zᵢ₃=47","t":570,"v":0.73},{"s":"zᵢ₃=47","t":575,"v":0.76},{"s":"zᵢ₃=47","t":580,"v":0.7},{"s":"zᵢ₃=47","t":586,"v":0.72},{"s":"zᵢ₃=47","t":593,"v":0.79},{"s":"zᵢ₃=47","t":600,"v":0.8},{"s":"zᵢ₃=47","t":607,"v":0.78},{"s":"zᵢ₃=47","t":614,"v":0.85},{"s":"zᵢ₃=47","t":621,"v":0.81},{"s":"zᵢ₃=47","t":628,"v":0.83},{"s":"zᵢ₃=47","t":636,"v":0.84},{"s":"zᵢ₃=47","t":643,"v":0.86},{"s":"zᵢ₃=47","t":650,"v":0.88},{"s":"zᵢ₃=47","t":658,"v":0.83},{"s":"zᵢ₃=47","t":668,"v":0.84},{"s":"zᵢ₃=47","t":673,"v":0.78},{"s":"zᵢ₃=47","t":680,"v":0.83},{"s":"zᵢ₃=47","t":686,"v":0.82},{"s":"zᵢ₃=47","t":693,"v":0.87},{"s":"zᵢ₃=47","t":700,"v":0.88},{"s":"zᵢ₃=47","t":707,"v":0.84},{"s":"zᵢ₃=47","t":713,"v":0.85},{"s":"zᵢ₃=47","t":720,"v":0.87},{"s":"zᵢ₃=47","t":726,"v":0.89},{"s":"zᵢ₃=47","t":735,"v":0.86},{"s":"zᵢ₃=47","t":742,"v":0.88},{"s":"zᵢ₃=47","t":748,"v":0.9},{"s":"zᵢ₃=47","t":754,"v":0.91},{"s":"zᵢ₃=47","t":761,"v":0.87},{"s":"zᵢ₃=47","t":768,"v":0.88},{"s":"zᵢ₃=47","t":776,"v":0.87},{"s":"zᵢ₃=47","t":784,"v":0.86},{"s":"zᵢ₃=47","t":792,"v":0.86},{"s":"zᵢ₃=47","t":798,"v":0.85},{"s":"zᵢ₃=47","t":803,"v":0.8},{"s":"zᵢ₃=47","t":809,"v":0.86},{"s":"zᵢ₃=47","t":814,"v":0.84},{"s":"zᵢ₃=47","t":819,"v":0.83},{"s":"zᵢ₃=47","t":823,"v":0.82},{"s":"zᵢ₃=47","t":826,"v":0.86},{"s":"zᵢ₃=47","t":831,"v":0.8},
{"s":"zᵢ₄=58","t":23,"v":0},{"s":"zᵢ₄=58","t":25,"v":0.3},{"s":"zᵢ₄=58","t":38,"v":0.34},{"s":"zᵢ₄=58","t":47,"v":0.38},{"s":"zᵢ₄=58","t":57,"v":0.44},{"s":"zᵢ₄=58","t":66,"v":0.42},{"s":"zᵢ₄=58","t":75,"v":0.55},{"s":"zᵢ₄=58","t":93,"v":0.58},{"s":"zᵢ₄=58","t":112,"v":0.6},{"s":"zᵢ₄=58","t":130,"v":0.55},{"s":"zᵢ₄=58","t":144,"v":0.53},{"s":"zᵢ₄=58","t":158,"v":0.55},{"s":"zᵢ₄=58","t":167,"v":0.6},{"s":"zᵢ₄=58","t":174,"v":0.58},{"s":"zᵢ₄=58","t":181,"v":0.53},{"s":"zᵢ₄=58","t":188,"v":0.64},{"s":"zᵢ₄=58","t":199,"v":0.68},{"s":"zᵢ₄=58","t":212,"v":0.64},{"s":"zᵢ₄=58","t":226,"v":0.62},{"s":"zᵢ₄=58","t":240,"v":0.67},{"s":"zᵢ₄=58","t":258,"v":0.71},{"s":"zᵢ₄=58","t":272,"v":0.77},{"s":"zᵢ₄=58","t":290,"v":0.82},{"s":"zᵢ₄=58","t":303,"v":0.87},{"s":"zᵢ₄=58","t":322,"v":0.93},{"s":"zᵢ₄=58","t":340,"v":0.92},{"s":"zᵢ₄=58","t":354,"v":0.97},{"s":"zᵢ₄=58","t":368,"v":0.95},{"s":"zᵢ₄=58","t":381,"v":0.95},{"s":"zᵢ₄=58","t":395,"v":0.97},{"s":"zᵢ₄=58","t":409,"v":0.95},{"s":"zᵢ₄=58","t":418,"v":0.99},{"s":"zᵢ₄=58","t":429,"v":0.95},{"s":"zᵢ₄=58","t":435,"v":0.93},{"s":"zᵢ₄=58","t":445,"v":0.96},{"s":"zᵢ₄=58","t":454,"v":0.98},{"s":"zᵢ₄=58","t":463,"v":0.97},{"s":"zᵢ₄=58","t":472,"v":1.02},{"s":"zᵢ₄=58","t":483,"v":0.96},{"s":"zᵢ₄=58","t":490,"v":0.99},{"s":"zᵢ₄=58","t":497,"v":1.02},{"s":"zᵢ₄=58","t":505,"v":0.99},{"s":"zᵢ₄=58","t":513,"v":0.96},{"s":"zᵢ₄=58","t":521,"v":0.98},{"s":"zᵢ₄=58","t":529,"v":0.97},{"s":"zᵢ₄=58","t":541,"v":0.95},{"s":"zᵢ₄=58","t":550,"v":0.96},{"s":"zᵢ₄=58","t":554,"v":0.8},{"s":"zᵢ₄=58","t":558,"v":0.86},{"s":"zᵢ₄=58","t":563,"v":0.88},{"s":"zᵢ₄=58","t":568,"v":0.84},{"s":"zᵢ₄=58","t":573,"v":0.82},{"s":"zᵢ₄=58","t":578,"v":0.86},{"s":"zᵢ₄=58","t":582,"v":0.88},{"s":"zᵢ₄=58","t":587,"v":0.82},{"s":"zᵢ₄=58","t":591,"v":0.85},{"s":"zᵢ₄=58","t":596,"v":0.9},{"s":"zᵢ₄=58","t":600,"v":0.95},{"s":"zᵢ₄=58","t":605,"v":0.88},{"s":"zᵢ₄=58","t":609,"v":0.85},{"s":"zᵢ₄=58","t":616,"v":0.84},{"s":"zᵢ₄=58","t":623,"v":0.82},{"s":"zᵢ₄=58","t":630,"v":0.86},{"s":"zᵢ₄=58","t":636,"v":0.88},{"s":"zᵢ₄=58","t":643,"v":0.86},{"s":"zᵢ₄=58","t":650,"v":0.87},{"s":"zᵢ₄=58","t":657,"v":0.88},{"s":"zᵢ₄=58","t":663,"v":0.88},{"s":"zᵢ₄=58","t":670,"v":0.86},{"s":"zᵢ₄=58","t":677,"v":0.87},{"s":"zᵢ₄=58","t":684,"v":0.85},{"s":"zᵢ₄=58","t":690,"v":0.82},{"s":"zᵢ₄=58","t":695,"v":0.8},{"s":"zᵢ₄=58","t":700,"v":0.76},{"s":"zᵢ₄=58","t":706,"v":0.8},{"s":"zᵢ₄=58","t":711,"v":0.82},{"s":"zᵢ₄=58","t":716,"v":0.78},{"s":"zᵢ₄=58","t":722,"v":0.73},{"s":"zᵢ₄=58","t":728,"v":0.72},{"s":"zᵢ₄=58","t":735,"v":0.66},{"s":"zᵢ₄=58","t":740,"v":0.72},{"s":"zᵢ₄=58","t":744,"v":0.73},{"s":"zᵢ₄=58","t":749,"v":0.7},{"s":"zᵢ₄=58","t":754,"v":0.72},{"s":"zᵢ₄=58","t":759,"v":0.68},{"s":"zᵢ₄=58","t":763,"v":0.65},{"s":"zᵢ₄=58","t":768,"v":0.72},{"s":"zᵢ₄=58","t":772,"v":0.73},{"s":"zᵢ₄=58","t":776,"v":0.7},{"s":"zᵢ₄=58","t":780,"v":0.71},{"s":"zᵢ₄=58","t":785,"v":0.69},{"s":"zᵢ₄=58","t":790,"v":0.66},{"s":"zᵢ₄=58","t":794,"v":0.72},{"s":"zᵢ₄=58","t":798,"v":0.85},{"s":"zᵢ₄=58","t":803,"v":0.73},{"s":"zᵢ₄=58","t":808,"v":0.7},{"s":"zᵢ₄=58","t":810,"v":0.67},{"s":"zᵢ₄=58","t":815,"v":0.72},{"s":"zᵢ₄=58","t":820,"v":0.73},{"s":"zᵢ₄=58","t":823,"v":0.72},{"s":"zᵢ₄=58","t":828,"v":0.76},{"s":"zᵢ₄=58","t":833,"v":0.78}
],
"lab1": [{"t": 50, "v": 2.8, "label": "(a) GB1"}],
"lab2": [{"t": 50, "v": 2.8, "label": "(b) GB2"}]
},
"vconcat": [
{
  "width": 597, "height": 363,
  "resolve": {"axis": {"x": "independent", "y": "independent"}},
  "layer": [
    {
      "data": {"name": "gb1"},
      "mark": {"type": "line", "strokeWidth": 2.8, "clip": true},
      "encoding": {
        "x": {"field": "t", "type": "quantitative", "scale": {"domain": [23, 842], "nice": false, "zero": false}, "axis": {"values": [100,200,300,400,500,600,700,800], "grid": true, "title": "Time(hrs.)"}},
        "y": {"field": "v", "type": "quantitative", "scale": {"domain": [0, 4], "nice": false}, "axis": {"values": [0,1,2,3,4], "format": "d", "grid": true, "title": "rMSB Mag."}},
        "color": {"field": "s", "type": "nominal", "scale": {"domain": ["zᵣ₁=49","zᵣ₂=55","zᵣ₃=13","zᵣ₄=59"], "range": ["#0000ff","#0a7d0a","#ff0000","#00bfbf"]},
          "legend": {"orient": "none", "legendX": 18, "legendY": 17, "direction": "horizontal", "columns": 4, "title": null, "strokeColor": "#262626", "fillColor": "white", "padding": 9, "symbolType": "M-1,0H5.3", "symbolSize": 400, "symbolStrokeWidth": 3, "symbolOffset": 0, "labelFont": "Liberation Serif", "labelFontSize": 20, "labelColor": "#000000", "columnPadding": 9, "labelOffset": 44}},
        "order": {"field": "t", "type": "quantitative"}
      }
    },
    {
      "data": {"name": "lab1"},
      "mark": {"type": "text", "align": "left", "baseline": "middle", "font": "Liberation Serif", "fontWeight": "bold", "fontSize": 21, "color": "#000000"},
      "encoding": {
        "x": {"field": "t", "type": "quantitative", "axis": {"orient": "top", "values": [100,200,300,400,500,600,700,800], "labels": false, "title": null, "grid": false, "domain": false}},
        "y": {"field": "v", "type": "quantitative", "axis": {"orient": "right", "values": [0,1,2,3,4], "labels": false, "title": null, "grid": false, "domain": false}},
        "text": {"field": "label"}
      }
    }
  ]
},
{
  "width": 597, "height": 363,
  "resolve": {"axis": {"x": "independent", "y": "independent"}},
  "layer": [
    {
      "data": {"name": "gb2"},
      "mark": {"type": "line", "strokeWidth": 2.8, "clip": true},
      "encoding": {
        "x": {"field": "t", "type": "quantitative", "scale": {"domain": [23, 842], "nice": false, "zero": false}, "axis": {"values": [100,200,300,400,500,600,700,800], "grid": true, "title": "Time(hrs.)"}},
        "y": {"field": "v", "type": "quantitative", "scale": {"domain": [0, 4], "nice": false}, "axis": {"values": [0,1,2,3,4], "format": "d", "grid": true, "title": "rMSB Mag."}},
        "color": {"field": "s", "type": "nominal", "scale": {"domain": ["zᵢ₁=59","zᵢ₂=13","zᵢ₃=47","zᵢ₄=58"], "range": ["#0000ff","#0a7d0a","#ff0000","#00bfbf"]},
          "legend": {"orient": "none", "legendX": 18, "legendY": 17, "direction": "horizontal", "columns": 4, "title": null, "strokeColor": "#262626", "fillColor": "white", "padding": 9, "symbolType": "M-1,0H5.3", "symbolSize": 400, "symbolStrokeWidth": 3, "symbolOffset": 0, "labelFont": "Liberation Serif", "labelFontSize": 20, "labelColor": "#000000", "columnPadding": 9, "labelOffset": 44}},
        "order": {"field": "t", "type": "quantitative"}
      }
    },
    {
      "data": {"name": "lab2"},
      "mark": {"type": "text", "align": "left", "baseline": "middle", "font": "Liberation Serif", "fontWeight": "bold", "fontSize": 21, "color": "#000000"},
      "encoding": {
        "x": {"field": "t", "type": "quantitative", "axis": {"orient": "top", "values": [100,200,300,400,500,600,700,800], "labels": false, "title": null, "grid": false, "domain": false}},
        "y": {"field": "v", "type": "quantitative", "axis": {"orient": "right", "values": [0,1,2,3,4], "labels": false, "title": null, "grid": false, "domain": false}},
        "text": {"field": "label"}
      }
    }
  ]
}
],
"resolve": {"scale": {"color": "independent"}, "legend": {"color": "independent"}}
}
